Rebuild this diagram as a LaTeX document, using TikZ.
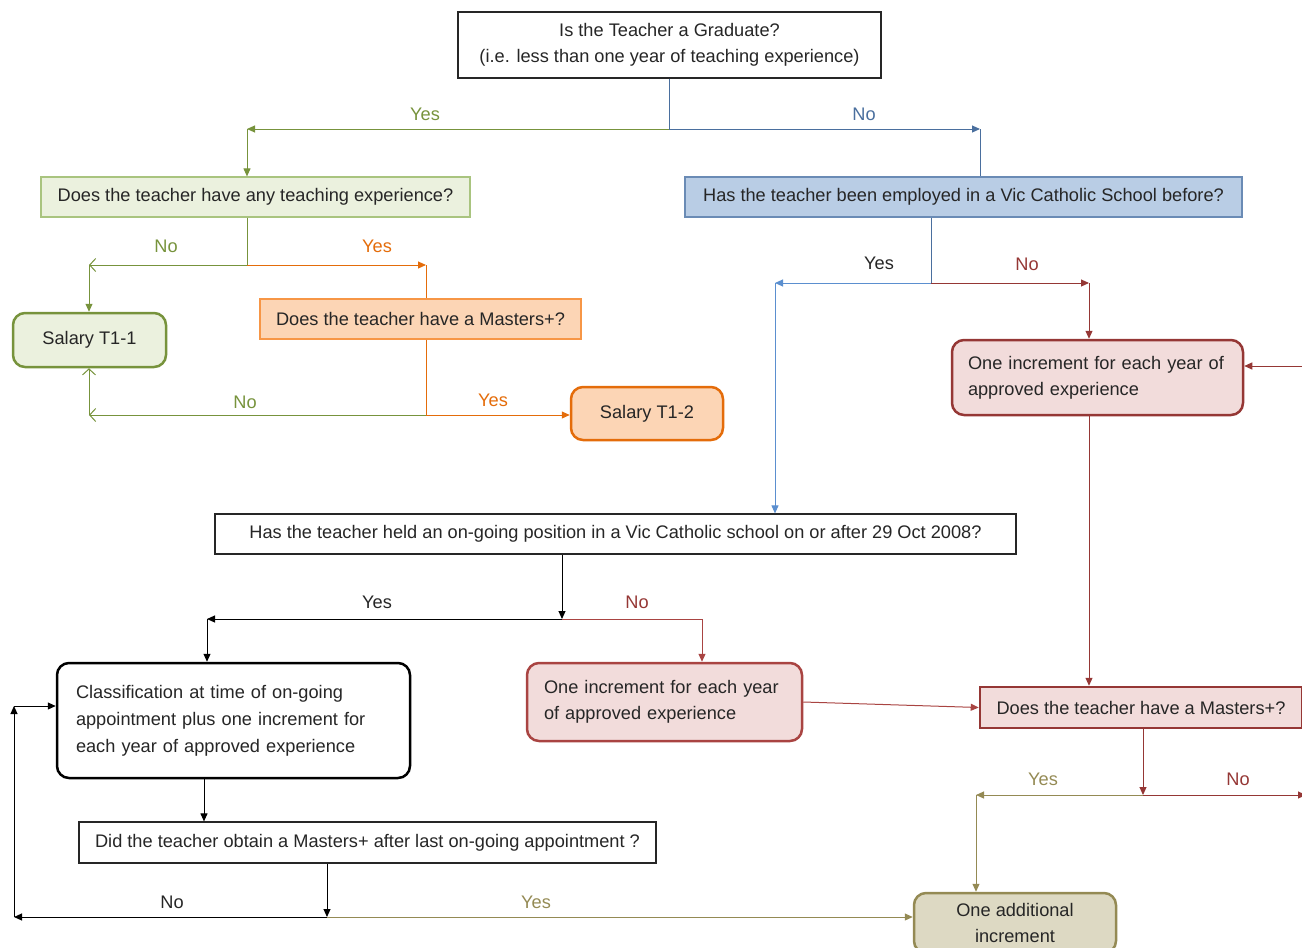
\documentclass[tikz,border=0pt]{standalone}
\usepackage{fontspec}
\setmainfont{Liberation Sans}
\usepackage{xcolor}
\usetikzlibrary{arrows.meta}

\definecolor{grnline}{HTML}{77933C}
\definecolor{grnfill}{HTML}{EBF1DE}
\definecolor{grnedge}{HTML}{A9C47F}
\definecolor{orgline}{HTML}{E46C0A}
\definecolor{orgfill}{HTML}{FCD5B5}
\definecolor{orgedge}{HTML}{F79646}
\definecolor{bluline}{HTML}{4A6F9E}
\definecolor{lbluline}{HTML}{5B8FCF}
\definecolor{blufill}{HTML}{B9CDE5}
\definecolor{bluedge}{HTML}{6A8BB5}
\definecolor{redline}{HTML}{953735}
\definecolor{redfill}{HTML}{F2DCDB}
\definecolor{rededge}{HTML}{A94442}
\definecolor{olvline}{HTML}{948A54}
\definecolor{olvfill}{HTML}{DDD9C3}
\definecolor{txt}{HTML}{262626}

\begin{document}
\begin{tikzpicture}[x=1pt, y=-1pt,
    font=\fontsize{18.2}{26}\selectfont,
    every node/.style={text=txt, inner sep=0pt},
    qbox/.style={draw=#1, line width=1.2pt, align=center},
    rbox/.style={draw=#1, line width=2.5pt, rounded corners=12pt},
    lbl/.style={text=#1},
    tip/.style={-{Triangle[length=8pt,width=7pt]}},
    opentip/.style={-{Straight Barb[length=6pt,width=13pt]}}]
\useasboundingbox (0,0) rectangle (1302,948);
\clip (0,0) rectangle (1302,948);

% questions
\node[qbox=txt, fill=white, minimum width=423pt, minimum height=66pt] (grad) at (669.5,45)
    {Is the Teacher a Graduate?\\(i.e. less than one year of teaching experience)};
\node[qbox=grnedge, fill=grnfill, minimum width=429pt, minimum height=40pt] (exp) at (255.5,197)
    {Does the teacher have any teaching experience?};
\node[qbox=orgedge, fill=orgfill, minimum width=321pt, minimum height=40pt] (mast1) at (420.5,319)
    {Does the teacher have a Masters+?};
\node[qbox=bluedge, fill=blufill, minimum width=557pt, minimum height=40pt] (vic) at (963.5,197)
    {Has the teacher been employed in a Vic Catholic School before?};
\node[qbox=txt, fill=white, minimum width=801pt, minimum height=40pt] (held) at (615.5,534)
    {Has the teacher held an on-going position in a Vic Catholic school on or after 29 Oct 2008?};
\node[qbox=txt, fill=white, minimum width=577pt, minimum height=41pt] (did) at (367.5,842.5)
    {Did the teacher obtain a Masters+ after last on-going appointment ?};
\node[draw=redline, line width=2.5pt, fill=redfill, minimum width=322pt, minimum height=41pt] (mast2) at (1141,707.5)
    {Does the teacher have a Masters+?};

% outcomes
\node[rbox=grnline, fill=grnfill, minimum width=153pt, minimum height=54pt] (t11) at (89.5,340) {Salary T1-1};
\node[rbox=orgline, fill=orgfill, minimum width=152pt, minimum height=53pt] (t12) at (647,413.5) {Salary T1-2};
\node[rbox=redline, fill=redfill, minimum width=291pt, minimum height=75pt, text width=259pt, align=left] (inc1) at (1097.5,377.5)
    {One increment for each year of\\approved experience};
\node[rbox=rededge, fill=redfill, minimum width=275pt, minimum height=78pt, text width=241pt, align=left] (inc2) at (664.5,702)
    {One increment for each year\\of approved experience};
\node[rbox=black, fill=white, minimum width=353pt, minimum height=115pt, text width=315pt, align=left,
      font=\fontsize{18.2}{27}\selectfont] (class) at (233.5,720.5)
    {Classification at time of on-going\\appointment plus one increment for\\each year of approved experience};
\node[rbox=olvline, fill=olvfill, minimum width=202pt, minimum height=60pt, align=center] (addinc) at (1015,923)
    {One additional\\increment};

% bends
\coordinate (yesL1) at (247,129);
\coordinate (noR1) at (980,129);
\coordinate (j2) at (247,265);
\coordinate (noL2) at (89,265);
\coordinate (yesR2) at (426,265);
\coordinate (j3) at (426,415);
\coordinate (noL3) at (89,415);
\coordinate (j4) at (931,283);
\coordinate (yesL4) at (775,283);
\coordinate (noR4) at (1089,283);
\coordinate (edgeR1) at (1302,366);
\coordinate (j5) at (562,619);
\coordinate (yesL5) at (207,619);
\coordinate (noR5) at (702,619);
\coordinate (k6) at (204,800);
\coordinate (j6) at (327,917);
\coordinate (noL6) at (14,917);
\coordinate (up6) at (14,706);
\coordinate (j7) at (1143,795);
\coordinate (yesL7) at (976,795);
\coordinate (noR7) at (1306,795);

% connectors
\draw[grnline, line width=1pt, tip] (grad.south) |- (yesL1);
\draw[grnline, line width=1pt, tip] (yesL1) -- (exp.north -| yesL1);
\draw[bluline, line width=1pt, tip] (grad.south) |- (noR1);
\draw[bluline, line width=1pt] (noR1) -- (vic.north -| noR1);

\draw[grnline, line width=1pt] (exp.south -| j2) -- (j2);
\draw[grnline, line width=1pt, opentip] (j2) -- (noL2);
\draw[grnline, line width=1pt, tip] (noL2) -- (t11.north -| noL2);
\draw[orgline, line width=1pt, tip] (j2) -- (yesR2);
\draw[orgline, line width=1pt] (yesR2) -- (mast1.north -| yesR2);
\draw[orgline, line width=1pt] (mast1.south -| j3) -- (j3);
\draw[grnline, line width=1pt, opentip] (j3) -- (noL3);
\draw[grnline, line width=1pt, opentip] (noL3) -- (t11.south -| noL3);
\draw[orgline, line width=1pt, tip] (j3) -- (j3 -| t12.west);

\draw[bluline, line width=1pt] (vic.south -| j4) -- (j4);
\draw[lbluline, line width=1pt, tip] (j4) -- (yesL4);
\draw[lbluline, line width=1pt, tip] (yesL4) -- (held.north -| yesL4);
\draw[redline, line width=1pt, tip] (j4) -- (noR4);
\draw[redline, line width=1pt, tip] (noR4) -- (inc1.north -| noR4);
\draw[redline, line width=1pt, tip] (edgeR1) -- (edgeR1 -| inc1.east);
\draw[redline, line width=1pt, tip] (inc1.south -| noR4) -- (mast2.north -| noR4);

\draw[black, line width=1pt, tip] (held.south -| j5) -- (j5);
\draw[black, line width=1pt, tip] (j5) -- (yesL5);
\draw[black, line width=1pt, tip] (yesL5) -- (class.north -| yesL5);
\draw[rededge, line width=1pt] (j5) -- (noR5);
\draw[rededge, line width=1pt, tip] (noR5) -- (inc2.north -| noR5);
\draw[rededge, line width=1pt, tip] (inc2.east) -- (mast2.west);

\draw[black, line width=1pt, tip] (class.south -| k6) -- (did.north -| k6);
\draw[black, line width=1pt, tip] (did.south -| j6) -- (j6);
\draw[black, line width=1pt, tip] (j6) -- (noL6);
\draw[black, line width=1pt, tip] (noL6) -- (up6);
\draw[black, line width=1pt, tip] (up6) -- (up6 -| class.west);
\draw[olvline, line width=1pt, tip] (j6) -- (j6 -| addinc.west);

\draw[redline, line width=1pt, tip] (mast2.south -| j7) -- (j7);
\draw[olvline, line width=1pt, tip] (j7) -- (yesL7);
\draw[olvline, line width=1pt, tip] (yesL7) -- (addinc.north -| yesL7);
\draw[redline, line width=1pt, tip] (j7) -- (noR7);

% labels
\node[lbl=grnline] (yes1) at (425,114) {Yes};
\node[lbl=bluline] (no1) at (864,114) {No};
\node[lbl=grnline] (no2) at (166,246) {No};
\node[lbl=orgline] (yes2) at (377,246) {Yes};
\node[lbl=grnline] (no3) at (245,402) {No};
\node[lbl=orgline] (yes3) at (493,400) {Yes};
\node[lbl=txt] (yes4) at (879,263) {Yes};
\node[lbl=redline] (no4) at (1027,264) {No};
\node[lbl=txt] (yes5) at (377,602) {Yes};
\node[lbl=redline] (no5) at (637,602) {No};
\node[lbl=txt] (no6) at (172,902) {No};
\node[lbl=olvline] (yes6) at (536,902) {Yes};
\node[lbl=olvline] (yes7) at (1043,779) {Yes};
\node[lbl=redline] (no7) at (1238,779) {No};
\end{tikzpicture}
\end{document}
